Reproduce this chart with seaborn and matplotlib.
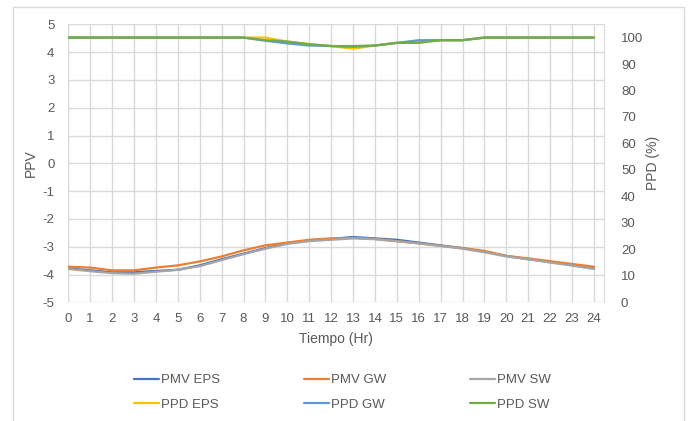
import numpy as np
import pandas as pd
import matplotlib
matplotlib.use("Agg")
import matplotlib.pyplot as plt
import seaborn as sns
from matplotlib.patches import Rectangle

# hours of the day
hours = list(range(25))

# PMV values (left axis)
pmv_eps = [-3.78, -3.85, -3.92, -3.92, -3.87, -3.83, -3.67, -3.45, -3.25, -3.05, -2.87, -2.78, -2.72,
           -2.65, -2.70, -2.75, -2.85, -2.95, -3.05, -3.18, -3.33, -3.45, -3.55, -3.65, -3.78]
pmv_gw = [-3.72, -3.75, -3.85, -3.85, -3.75, -3.67, -3.53, -3.35, -3.13, -2.95, -2.85, -2.75, -2.70,
          -2.68, -2.72, -2.80, -2.88, -2.97, -3.05, -3.15, -3.33, -3.42, -3.52, -3.62, -3.72]
pmv_sw = [-3.80, -3.88, -3.95, -3.97, -3.90, -3.83, -3.70, -3.48, -3.27, -3.07, -2.90, -2.80, -2.75,
          -2.70, -2.73, -2.80, -2.88, -2.97, -3.07, -3.20, -3.35, -3.45, -3.57, -3.68, -3.80]

# PPD values (right axis, %)
ppd_eps = [100, 100, 100, 100, 100, 100, 100, 100, 100, 100, 98.5, 97.5, 96.8,
           95.8, 97.0, 98.0, 98.5, 99.0, 99.0, 100, 100, 100, 100, 100, 100]
ppd_gw = [100, 100, 100, 100, 100, 100, 100, 100, 100, 98.8, 97.8, 97.0, 96.8,
          96.5, 97.0, 98.0, 99.0, 99.0, 99.0, 100, 100, 100, 100, 100, 100]
ppd_sw = [100, 100, 100, 100, 100, 100, 100, 100, 100, 99.0, 98.5, 97.5, 96.8,
          96.8, 97.0, 98.0, 98.0, 99.0, 99.0, 100, 100, 100, 100, 100, 100]

sns.set_style("white")
plt.rcParams['font.family'] = ['Liberation Sans', 'DejaVu Sans']
plt.rcParams['axes.unicode_minus'] = False

txt = "#595959"
grid = "#D9D9D9"

fig = plt.figure(figsize=(6.89, 4.21), dpi=100)
ax = fig.add_axes([0.0991, 0.2819, 0.7779, 0.6603])
ax2 = ax.twinx()

lw = 1.6
sns.lineplot(x=hours, y=pmv_eps, ax=ax, color="#4472C4", linewidth=lw, label="PMV EPS", legend=False)
sns.lineplot(x=hours, y=pmv_gw, ax=ax, color="#ED7D31", linewidth=lw, label="PMV GW", legend=False)
sns.lineplot(x=hours, y=pmv_sw, ax=ax, color="#A5A5A5", linewidth=lw, label="PMV SW", legend=False)
sns.lineplot(x=hours, y=ppd_eps, ax=ax2, color="#FFC000", linewidth=lw, label="PPD EPS", legend=False)
sns.lineplot(x=hours, y=ppd_gw, ax=ax2, color="#5B9BD5", linewidth=lw, label="PPD GW", legend=False)
sns.lineplot(x=hours, y=ppd_sw, ax=ax2, color="#70AD47", linewidth=lw, label="PPD SW", legend=False)

ax.set_xlim(0, 24.47)
ax.set_ylim(-5, 5)
ax2.set_ylim(0, 105)
ax.set_xticks(hours)
ax.set_yticks(range(-5, 6))
ax2.set_yticks(range(0, 101, 10))

ax.grid(True, color=grid, linewidth=1)
ax2.grid(False)
for a in (ax, ax2):
    for s in a.spines.values():
        s.set_visible(False)
    a.tick_params(length=0, labelsize=9.5, labelcolor=txt)
ax.spines['right'].set_visible(True)
ax.spines['right'].set_color(grid)
ax.tick_params(axis='y', pad=10)
ax.tick_params(axis='x', pad=8)
ax2.tick_params(axis='y', pad=12)

ax.set_xlabel("Tiempo (Hr)", fontsize=10, color=txt)
ax.set_ylabel("PPV", fontsize=10, color=txt)
ax2.set_ylabel("PPD (%)", fontsize=10, color=txt)
ax.xaxis.set_label_coords(0.5, -0.105)
ax.yaxis.set_label_coords(-0.056, 0.5)
ax2.yaxis.set_label_coords(1.078, 0.5)

# legend in Excel's row order (3 columns)
h1, lab1 = ax.get_legend_handles_labels()
h2, lab2 = ax2.get_legend_handles_labels()
handles = [h1[0], h2[0], h1[1], h2[1], h1[2], h2[2]]
labels = [lab1[0], lab2[0], lab1[1], lab2[1], lab1[2], lab2[2]]
fig.legend(handles, labels, ncol=3, loc='center', bbox_to_anchor=(0.497, 0.068),
           frameon=False, fontsize=9.5, labelcolor=txt, handlelength=1.9,
           handletextpad=0.2, columnspacing=6.3, labelspacing=0.9)

# chart area border
fig.patches.append(Rectangle((0.0193, -0.02), 0.9735, 1.003, transform=fig.transFigure,
                             fill=False, edgecolor=grid, linewidth=1))

fig.savefig("out.png", dpi=100)
